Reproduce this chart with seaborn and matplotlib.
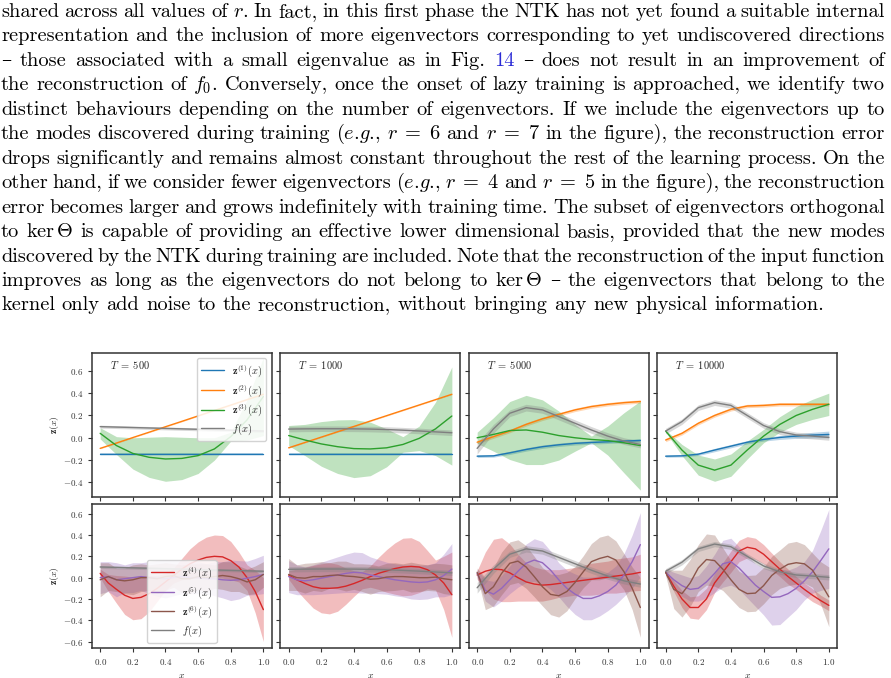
import re
import matplotlib
matplotlib.use("Agg")
import matplotlib.pyplot as plt
import numpy as np
import pandas as pd
import seaborn as sns

# ---------------- data ----------------
# top row and f(x): x = 0, 0.1, ..., 1.0
x = [0.0, 0.1, 0.2, 0.3, 0.4, 0.5, 0.6, 0.7, 0.8, 0.9, 1.0]
# bottom row eigenvectors: x = 0, 0.05, ..., 1.0
x_fine = [0.0, 0.05, 0.1, 0.15, 0.2, 0.25, 0.3, 0.35, 0.4, 0.45, 0.5,
          0.55, 0.6, 0.65, 0.7, 0.75, 0.8, 0.85, 0.9, 0.95, 1.0]

# T = 500
z1_500 = [-0.145, -0.145, -0.145, -0.145, -0.145, -0.145, -0.145, -0.145, -0.145, -0.145, -0.145]
z1_500_sd = [0.005, 0.005, 0.005, 0.005, 0.005, 0.005, 0.005, 0.005, 0.005, 0.005, 0.005]
z2_500 = [-0.095, -0.047, 0.002, 0.05, 0.099, 0.147, 0.196, 0.245, 0.293, 0.342, 0.39]
z2_500_sd = [0.004, 0.004, 0.004, 0.004, 0.004, 0.004, 0.004, 0.004, 0.004, 0.004, 0.004]
z3_500 = [0.04, -0.07, -0.14, -0.175, -0.19, -0.185, -0.16, -0.1, 0.01, 0.16, 0.37]
z3_500_sd = [0.05, 0.08, 0.14, 0.18, 0.2, 0.19, 0.16, 0.1, 0.04, 0.18, 0.35]
f_500 = [0.1, 0.096, 0.092, 0.088, 0.084, 0.08, 0.076, 0.072, 0.068, 0.064, 0.06]
f_500_sd = [0.013, 0.013, 0.013, 0.013, 0.013, 0.013, 0.013, 0.013, 0.013, 0.013, 0.013]
z4_500 = [0.04, -0.05, -0.11, -0.165, -0.195, -0.185, -0.15, -0.1, -0.04, 0.02, 0.08,
          0.13, 0.165, 0.19, 0.2, 0.195, 0.16, 0.1, 0.0, -0.13, -0.3]
z4_500_sd = [0.04, 0.08, 0.13, 0.18, 0.2, 0.2, 0.17, 0.12, 0.08, 0.07, 0.1,
             0.14, 0.17, 0.19, 0.2, 0.2, 0.18, 0.14, 0.12, 0.2, 0.3]
z5_500 = [0.0, 0.01, -0.02, -0.01, 0.0, 0.01, 0.0, -0.005, -0.01, 0.0, 0.01,
          0.0, 0.0, -0.01, -0.01, -0.02, -0.025, -0.02, -0.005, 0.01, 0.03]
z5_500_sd = [0.15, 0.14, 0.16, 0.13, 0.14, 0.13, 0.15, 0.17, 0.18, 0.17, 0.16,
             0.15, 0.15, 0.14, 0.16, 0.17, 0.19, 0.18, 0.16, 0.17, 0.18]
z6_500 = [-0.02, 0.01, -0.02, -0.03, -0.02, 0.0, 0.0, -0.01, 0.01, 0.02, -0.01,
          -0.01, 0.01, 0.0, 0.01, 0.02, 0.01, -0.01, -0.04, -0.02, 0.03]
z6_500_sd = [0.16, 0.13, 0.11, 0.12, 0.14, 0.13, 0.12, 0.14, 0.13, 0.11, 0.13,
             0.14, 0.12, 0.13, 0.11, 0.13, 0.14, 0.12, 0.12, 0.13, 0.12]

# T = 1000
z1_1000 = [-0.145, -0.145, -0.145, -0.145, -0.145, -0.145, -0.145, -0.145, -0.145, -0.145, -0.145]
z1_1000_sd = [0.008, 0.008, 0.008, 0.008, 0.008, 0.008, 0.008, 0.008, 0.008, 0.008, 0.008]
z2_1000 = [-0.09, -0.042, 0.006, 0.054, 0.102, 0.15, 0.198, 0.246, 0.294, 0.342, 0.39]
z2_1000_sd = [0.004, 0.004, 0.004, 0.004, 0.004, 0.004, 0.004, 0.004, 0.004, 0.004, 0.004]
z3_1000 = [0.02, -0.02, -0.055, -0.08, -0.097, -0.1, -0.09, -0.06, -0.005, 0.08, 0.195]
z3_1000_sd = [0.09, 0.14, 0.2, 0.24, 0.26, 0.24, 0.17, 0.07, 0.11, 0.24, 0.44]
f_1000 = [0.078, 0.08, 0.081, 0.081, 0.08, 0.078, 0.074, 0.068, 0.061, 0.053, 0.045]
f_1000_sd = [0.025, 0.025, 0.025, 0.025, 0.025, 0.025, 0.025, 0.025, 0.025, 0.025, 0.025]
z4_1000 = [0.025, -0.02, -0.055, -0.085, -0.1, -0.1, -0.095, -0.08, -0.055, -0.025, 0.01,
           0.04, 0.063, 0.085, 0.1, 0.105, 0.1, 0.075, 0.025, -0.05, -0.16]
z4_1000_sd = [0.04, 0.1, 0.15, 0.2, 0.23, 0.24, 0.22, 0.17, 0.12, 0.08, 0.1,
              0.15, 0.2, 0.24, 0.27, 0.27, 0.24, 0.18, 0.14, 0.25, 0.4]
z5_1000 = [0.01, -0.02, -0.03, -0.02, -0.005, 0.01, 0.025, 0.04, 0.05, 0.045, 0.025,
           0.01, -0.005, -0.02, -0.03, -0.04, -0.045, -0.04, -0.02, 0.02, 0.08]
z5_1000_sd = [0.15, 0.14, 0.13, 0.14, 0.15, 0.16, 0.17, 0.18, 0.19, 0.19, 0.17,
              0.16, 0.15, 0.15, 0.15, 0.16, 0.16, 0.16, 0.16, 0.2, 0.24]
z6_1000 = [0.03, 0.0, -0.005, 0.01, 0.01, 0.02, 0.025, 0.015, 0.01, 0.0, -0.015,
           -0.01, 0.005, 0.01, 0.01, 0.005, 0.0, 0.0, 0.005, -0.01, -0.02]
z6_1000_sd = [0.15, 0.12, 0.14, 0.13, 0.14, 0.12, 0.13, 0.14, 0.12, 0.13, 0.14,
              0.12, 0.13, 0.13, 0.12, 0.14, 0.13, 0.12, 0.13, 0.14, 0.14]

# T = 5000
z1_5000 = [-0.165, -0.162, -0.135, -0.105, -0.08, -0.063, -0.05, -0.042, -0.036, -0.03, -0.024]
z1_5000_sd = [0.012, 0.012, 0.014, 0.015, 0.015, 0.015, 0.015, 0.015, 0.015, 0.015, 0.015]
z2_5000 = [-0.04, 0.01, 0.06, 0.12, 0.17, 0.21, 0.25, 0.28, 0.3, 0.315, 0.325]
z2_5000_sd = [0.015, 0.015, 0.015, 0.015, 0.015, 0.015, 0.015, 0.015, 0.015, 0.015, 0.015]
z3_5000 = [0.0, 0.03, 0.065, 0.07, 0.05, 0.02, 0.0, -0.015, -0.025, -0.045, -0.07]
z3_5000_sd = [0.05, 0.15, 0.26, 0.31, 0.29, 0.22, 0.12, 0.03, 0.13, 0.27, 0.4]
f_5000 = [-0.095, 0.08, 0.22, 0.27, 0.25, 0.19, 0.13, 0.07, 0.015, -0.03, -0.06]
f_5000_sd = [0.05, 0.04, 0.03, 0.03, 0.03, 0.03, 0.03, 0.03, 0.03, 0.03, 0.03]
z4_5000 = [0.025, 0.06, 0.08, 0.075, 0.045, 0.0, -0.04, -0.06, -0.07, -0.065, -0.055,
           -0.045, -0.035, -0.025, -0.015, -0.005, 0.005, 0.015, 0.025, 0.035, 0.05]
z4_5000_sd = [0.04, 0.18, 0.28, 0.3, 0.27, 0.22, 0.18, 0.16, 0.15, 0.14, 0.13,
              0.13, 0.13, 0.14, 0.15, 0.15, 0.15, 0.16, 0.16, 0.16, 0.17]
z5_5000 = [0.04, -0.12, -0.155, -0.1, -0.02, 0.06, 0.135, 0.165, 0.14, 0.07, -0.02,
           -0.1, -0.155, -0.195, -0.195, -0.17, -0.13, -0.07, 0.025, 0.15, 0.31]
z5_5000_sd = [0.04, 0.1, 0.12, 0.12, 0.13, 0.15, 0.18, 0.2, 0.2, 0.18, 0.16,
              0.17, 0.19, 0.2, 0.2, 0.19, 0.18, 0.18, 0.2, 0.25, 0.3]
z6_5000 = [0.05, -0.15, -0.085, 0.04, 0.135, 0.155, 0.1, 0.01, -0.085, -0.157, -0.17,
           -0.13, -0.045, 0.055, 0.15, 0.18, 0.2, 0.165, 0.055, -0.1, -0.28]
z6_5000_sd = [0.04, 0.15, 0.18, 0.2, 0.2, 0.2, 0.2, 0.19, 0.18, 0.19, 0.2,
              0.18, 0.15, 0.15, 0.17, 0.2, 0.2, 0.18, 0.17, 0.2, 0.28]

# T = 10000
z1_10000 = [-0.165, -0.162, -0.147, -0.11, -0.075, -0.04, -0.015, 0.003, 0.015, 0.024, 0.03]
z1_10000_sd = [0.01, 0.01, 0.012, 0.015, 0.015, 0.015, 0.015, 0.018, 0.02, 0.025, 0.03]
z2_10000 = [-0.02, 0.04, 0.13, 0.2, 0.255, 0.285, 0.29, 0.3, 0.3, 0.3, 0.3]
z2_10000_sd = [0.015, 0.015, 0.015, 0.015, 0.015, 0.015, 0.015, 0.015, 0.015, 0.015, 0.015]
z3_10000 = [0.06, -0.11, -0.245, -0.29, -0.245, -0.11, 0.015, 0.12, 0.2, 0.255, 0.3]
z3_10000_sd = [0.01, 0.05, 0.09, 0.1, 0.1, 0.08, 0.06, 0.07, 0.08, 0.09, 0.1]
f_10000 = [0.06, 0.145, 0.27, 0.315, 0.29, 0.2, 0.11, 0.055, 0.025, 0.015, 0.003]
f_10000_sd = [0.025, 0.025, 0.025, 0.025, 0.025, 0.025, 0.025, 0.025, 0.025, 0.025, 0.025]
z4_10000 = [0.05, -0.08, -0.2, -0.28, -0.28, -0.2, -0.05, 0.05, 0.15, 0.25, 0.285,
            0.27, 0.22, 0.15, 0.08, 0.01, -0.05, -0.11, -0.165, -0.215, -0.26]
z4_10000_sd = [0.02, 0.05, 0.08, 0.1, 0.11, 0.1, 0.09, 0.09, 0.1, 0.1, 0.1,
               0.1, 0.09, 0.08, 0.07, 0.07, 0.06, 0.06, 0.06, 0.05, 0.05]
z5_10000 = [0.05, -0.02, -0.075, -0.11, -0.1, -0.04, 0.04, 0.13, 0.15, 0.09, 0.01,
            -0.07, -0.13, -0.185, -0.18, -0.15, -0.1, -0.03, 0.055, 0.16, 0.27]
z5_10000_sd = [0.03, 0.07, 0.1, 0.11, 0.12, 0.15, 0.18, 0.22, 0.22, 0.2, 0.2,
               0.2, 0.22, 0.26, 0.26, 0.22, 0.2, 0.18, 0.2, 0.28, 0.37]
z6_10000 = [0.05, -0.11, -0.15, -0.05, 0.09, 0.17, 0.16, 0.08, -0.02, -0.11, -0.15,
            -0.145, -0.075, 0.02, 0.08, 0.125, 0.14, 0.13, 0.07, -0.05, -0.18]
z6_10000_sd = [0.03, 0.18, 0.22, 0.22, 0.22, 0.24, 0.24, 0.2, 0.18, 0.17, 0.17,
               0.17, 0.17, 0.18, 0.18, 0.2, 0.2, 0.18, 0.16, 0.2, 0.28]

times = [500, 1000, 5000, 10000]
top_curves = {
    500: {"z1": (x, z1_500, z1_500_sd), "z2": (x, z2_500, z2_500_sd), "z3": (x, z3_500, z3_500_sd), "f": (x, f_500, f_500_sd)},
    1000: {"z1": (x, z1_1000, z1_1000_sd), "z2": (x, z2_1000, z2_1000_sd), "z3": (x, z3_1000, z3_1000_sd), "f": (x, f_1000, f_1000_sd)},
    5000: {"z1": (x, z1_5000, z1_5000_sd), "z2": (x, z2_5000, z2_5000_sd), "z3": (x, z3_5000, z3_5000_sd), "f": (x, f_5000, f_5000_sd)},
    10000: {"z1": (x, z1_10000, z1_10000_sd), "z2": (x, z2_10000, z2_10000_sd), "z3": (x, z3_10000, z3_10000_sd), "f": (x, f_10000, f_10000_sd)},
}
bot_curves = {
    500: {"z4": (x_fine, z4_500, z4_500_sd), "z5": (x_fine, z5_500, z5_500_sd), "z6": (x_fine, z6_500, z6_500_sd), "f": (x, f_500, f_500_sd)},
    1000: {"z4": (x_fine, z4_1000, z4_1000_sd), "z5": (x_fine, z5_1000, z5_1000_sd), "z6": (x_fine, z6_1000, z6_1000_sd), "f": (x, f_1000, f_1000_sd)},
    5000: {"z4": (x_fine, z4_5000, z4_5000_sd), "z5": (x_fine, z5_5000, z5_5000_sd), "z6": (x_fine, z6_5000, z6_5000_sd), "f": (x, f_5000, f_5000_sd)},
    10000: {"z4": (x_fine, z4_10000, z4_10000_sd), "z5": (x_fine, z5_10000, z5_10000_sd), "z6": (x_fine, z6_10000, z6_10000_sd), "f": (x, f_10000, f_10000_sd)},
}

labels = {
    "z1": r"$\mathbf{z}^{(1)}(x)$", "z2": r"$\mathbf{z}^{(2)}(x)$", "z3": r"$\mathbf{z}^{(3)}(x)$",
    "z4": r"$\mathbf{z}^{(4)}(x)$", "z5": r"$\mathbf{z}^{(5)}(x)$", "z6": r"$\mathbf{z}^{(6)}(x)$",
    "f": r"$f(x)$",
}
colors = {"z1": "tab:blue", "z2": "tab:orange", "z3": "tab:green",
          "z4": "tab:red", "z5": "tab:purple", "z6": "tab:brown", "f": "tab:gray"}

text_lines = [
    r"shared across all values of $r$. In fact, in this first phase the NTK has not yet found a suitable internal",
    r"representation and the inclusion of more eigenvectors corresponding to yet undiscovered directions",
    r"– those associated with a small eigenvalue as in Fig. @14 – does not result in an improvement of",
    r"the reconstruction of $f_0$. Conversely, once the onset of lazy training is approached, we identify two",
    r"distinct behaviours depending on the number of eigenvectors. If we include the eigenvectors up to",
    r"the modes discovered during training ($e$.$g$., $r\;=\;6$ and $r\;=\;7$ in the figure), the reconstruction error",
    r"drops significantly and remains almost constant throughout the rest of the learning process. On the",
    r"other hand, if we consider fewer eigenvectors ($e$.$g$., $r\;=\;4$ and $r\;=\;5$ in the figure), the reconstruction",
    r"error becomes larger and grows indefinitely with training time. The subset of eigenvectors orthogonal",
    r"to $\ker\Theta$ is capable of providing an effective lower dimensional basis, provided that the new modes",
    r"discovered by the NTK during training are included. Note that the reconstruction of the input function",
    r"improves as long as the eigenvectors do not belong to $\ker\Theta$ – the eigenvectors that belong to the",
    r"kernel only add noise to the reconstruction, without bringing any new physical information.",
]


def to_long(curves):
    # three samples per x (low, mean, high) -> seaborn draws median line + min/max band
    rows = []
    for name, (xs, mean, sd) in curves.items():
        for xi, m, s in zip(xs, mean, sd):
            for v in (m - s, m, m + s):
                rows.append({"x": xi, "z": v, "curve": labels[name]})
    return pd.DataFrame(rows)


sns.set_theme(style="ticks")
plt.rcParams["font.family"] = ["cmr10", "DejaVu Serif"]
plt.rcParams["mathtext.fontset"] = "cm"
plt.rcParams["axes.formatter.use_mathtext"] = True
plt.rcParams["axes.unicode_minus"] = True

W, H = 891, 678
fig = plt.figure(figsize=(W / 100, H / 100), dpi=100)
gs = fig.add_gridspec(2, 4, left=92 / W, right=837 / W, top=1 - 353 / H, bottom=1 - 648 / H,
                      wspace=0.05, hspace=0.05)
axes = gs.subplots(sharex=True, sharey="row")

band = lambda v: (v.min(), v.max())

for row, curves_by_t in enumerate([top_curves, bot_curves]):
    for col, t in enumerate(times):
        ax = axes[row, col]
        df = to_long(curves_by_t[t])
        order = [labels[k] for k in curves_by_t[t]]
        pal = {labels[k]: colors[k] for k in curves_by_t[t]}
        sns.lineplot(data=df, x="x", y="z", hue="curve", hue_order=order, palette=pal,
                     estimator="median", errorbar=band, err_kws={"alpha": 0.3, "linewidth": 0},
                     linewidth=1.0, legend=(col == 0), ax=ax)
        ax.set_xlabel("")
        ax.set_ylabel("")
        if row == 0:
            ax.text(0.1, 0.92, r"$T\;=\;%d$" % t, transform=ax.transAxes, fontsize=7.5, va="center")
        for sp in ax.spines.values():
            sp.set_linewidth(1.1)
            sp.set_color("#333333")
        ax.tick_params(direction="out", length=3, width=0.8, labelsize=6.5, colors="#333333")

axes[0, 0].set_xlim(-0.05, 1.05)
axes[0, 0].set_xticks([0.0, 0.2, 0.4, 0.6, 0.8, 1.0])
axes[0, 0].set_ylim(-0.53, 0.76)
axes[0, 0].set_yticks([-0.4, -0.2, 0.0, 0.2, 0.4, 0.6])
axes[1, 0].set_ylim(-0.66, 0.69)
axes[1, 0].set_yticks([-0.6, -0.4, -0.2, 0.0, 0.2, 0.4, 0.6])

for r in range(2):
    axes[r, 0].set_ylabel(r"$\mathbf{z}(x)$", fontsize=7, labelpad=1)
for c in range(4):
    axes[1, c].set_xlabel(r"$x$", fontsize=7, labelpad=3)

sns.move_legend(axes[0, 0], "upper right", title=None, fontsize=7.5, frameon=True,
                framealpha=0.85, edgecolor="#cccccc", borderpad=0.4, labelspacing=0.3,
                handlelength=2.2)
sns.move_legend(axes[1, 0], "lower center", title=None, fontsize=7.5, frameon=True,
                framealpha=0.85, edgecolor="#cccccc", borderpad=0.4, labelspacing=0.3,
                handlelength=2.2)

# ---------------- justified paragraph above the figure ----------------
renderer = fig.canvas.get_renderer()
x0, x1 = 1.0, 885.0
fs = 14.7
for i, line in enumerate(text_lines):
    y = 17 + 24.45 * i
    words = re.findall(r"(?:\$[^$]*\$|[^\s$])+", line)
    arts = []
    for w in words:
        col = "black"
        if w.startswith("@"):
            w = w[1:]
            col = "#2b2bd6"
        arts.append(fig.text(0, 1 - y / H, w, fontsize=fs, color=col, va="baseline", ha="left"))
    widths = [a.get_window_extent(renderer).width for a in arts]
    if i == len(text_lines) - 1:
        gap = 0.333 * fs * 100 / 72
    else:
        gap = (x1 - x0 - sum(widths)) / (len(arts) - 1)
    xp = x0
    for a, wd in zip(arts, widths):
        a.set_x(xp / W)
        xp += wd + gap

fig.savefig("out.png", dpi=100)
